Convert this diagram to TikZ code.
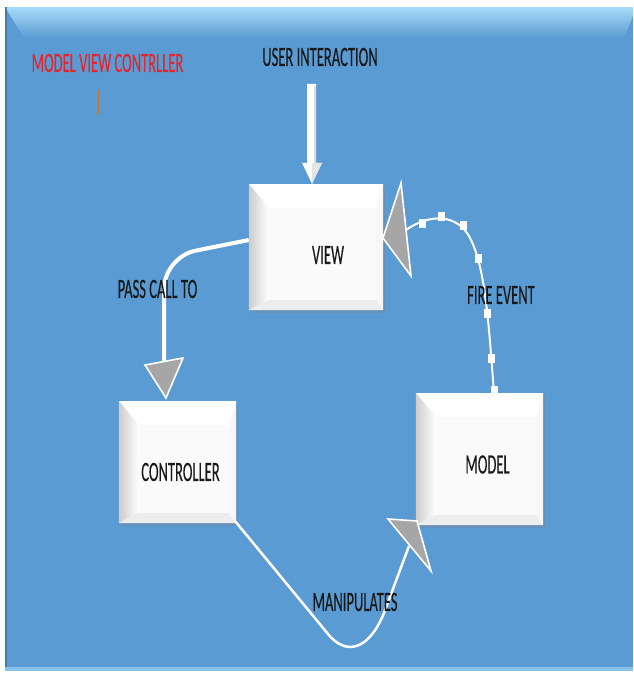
\documentclass[tikz,border=0pt]{standalone}
\usepackage{fontspec}
\setmainfont{Carlito}[FakeStretch=0.52, FakeBold=0.2]
\usetikzlibrary{calc,shadows}

\definecolor{panel}{HTML}{5B9BD3}
\definecolor{panellight}{HTML}{A6DBF9}
\definecolor{headgray}{HTML}{A6A6A6}
\definecolor{titlered}{HTML}{E3262E}
\definecolor{tickcol}{HTML}{C0742E}

\tikzset{
  box/.style={fill=white, inner sep=0pt,
    drop shadow={shadow xshift=2pt, shadow yshift=-3pt, opacity=.3}},
  lbl/.style={font=\fontsize{28}{30}\selectfont, text=black!90, inner sep=0pt},
  wire/.style={draw=white, line width=2.5pt},
  head/.style={fill=headgray, draw=white, line width=1.6pt, line join=miter},
  tickmark/.style={fill=white},
}

% bevelled white block: name, centre x, centre y, width, height
\newcommand\bevelbox[5]{%
  \node[box, minimum width=#4pt, minimum height=#5pt] (#1) at (#2,#3) {};
  \shade[left color=black!20, right color=white]
    (#1.north west) -- ($(#1.north west)+(20,24)$) -- ($(#1.south west)+(20,-10)$)
    -- (#1.south west) -- cycle;
  \fill[black!7]
    (#1.south west) -- ($(#1.south west)+(20,-10)$) -- ($(#1.south east)+(-7,-10)$)
    -- (#1.south east) -- cycle;
  \fill[black!3]
    (#1.south east) -- ($(#1.south east)+(-7,-10)$) -- ($(#1.north east)+(-7,24)$)
    -- (#1.north east) -- cycle;
  \fill[black!2] ($(#1.north west)+(20,24)$) rectangle ($(#1.south east)+(-7,-10)$);
}

\begin{document}
\begin{tikzpicture}[x=1pt,y=-1pt]
\useasboundingbox (0,0) rectangle (633,673);
\fill[white] (0,0) rectangle (633,673);

% background panel with its bevelled top band
\fill[panel] (5,7) rectangle (633,671);
\shade[top color=panellight, bottom color=panel]
  (5,7) -- (633,7) -- (633,16) -- (624,38) -- (24,38) -- cycle;
\fill[black!20!panel] (5,7) rectangle (6.5,671);
\fill[panellight!60!panel] (5,667) rectangle (633,671);

% title and the small mark under it
\node[lbl, text=titlered] (title) at (107.5,63) {MODEL VIEW CONTRLLER};
\draw[tickcol, line width=0.8pt] (98.5,90) -- (98.5,115);

% the three blocks
\bevelbox{view}{316}{247}{134}{126}
\bevelbox{controller}{177.5}{462}{117}{122}
\bevelbox{model}{479.5}{459}{127}{132}

\node[lbl] (viewlbl) at (328,255) {VIEW};
\node[lbl] (controllerlbl) at (180.5,472) {CONTROLLER};
\node[lbl] (modellbl) at (487.5,464.5) {MODEL};

% user interaction block arrow into the view
\node[lbl] (ui) at (320,57) {USER INTERACTION};
\coordinate (uiTip) at ([xshift=-4pt]view.north);
\fill[white] ($(uiTip)+(-5,-100)$) -- ($(uiTip)+(4,-100)$) -- ($(uiTip)+(4,-21)$)
  -- ($(uiTip)+(10,-21)$) -- (uiTip) -- ($(uiTip)+(-10,-21)$) -- ($(uiTip)+(-5,-21)$) -- cycle;
\fill[black!14] ($(uiTip)+(1.5,-98)$) rectangle ($(uiTip)+(4,-21)$);
\fill[black!10] ($(uiTip)+(0,-21)$) -- ($(uiTip)+(10,-21)$) -- (uiTip) -- cycle;

% view -> controller
\coordinate (passEnd) at (164,362);
\draw[wire, line width=4pt, rounded corners=32pt]
  ([yshift=7pt]view.west) -- (164,257) -- (passEnd);
\filldraw[head] (145,365) -- (183,358) -- (166,398) -- cycle;
\node[lbl] (passlbl) at (157.5,289) {PASS CALL TO};

% model -> view
\coordinate (fireEnd) at (406,230);
\draw[wire, line width=2pt]
  ([xshift=14.5pt]model.north) .. controls (489,330) and (486,268) .. (470,238)
  .. controls (458,214) and (430,213) .. (fireEnd);
\foreach \p in {(422,223),(441,216),(463,225),(478,258),(487,313),(491,358),(494,390)}
  \fill[tickmark] \p +(-3.5,-4.5) rectangle +(3.5,4.5);
\filldraw[head] (401,183) -- (411,276) -- (383,238) -- cycle;
\node[lbl] (firelbl) at (501,295) {FIRE EVENT};

% controller -> model
\coordinate (manEnd) at (409,546);
\draw[wire, line width=2.5pt]
  ([shift={(-1,-2)}]controller.south east) -- (328,634)
  .. controls (345,655) and (368,652) .. (384,613) -- (manEnd);
\filldraw[head] (388,519) -- (431,571) -- (417,521) -- cycle;
\node[lbl] (manlbl) at (355,602) {MANIPULATES};
\end{tikzpicture}
\end{document}
